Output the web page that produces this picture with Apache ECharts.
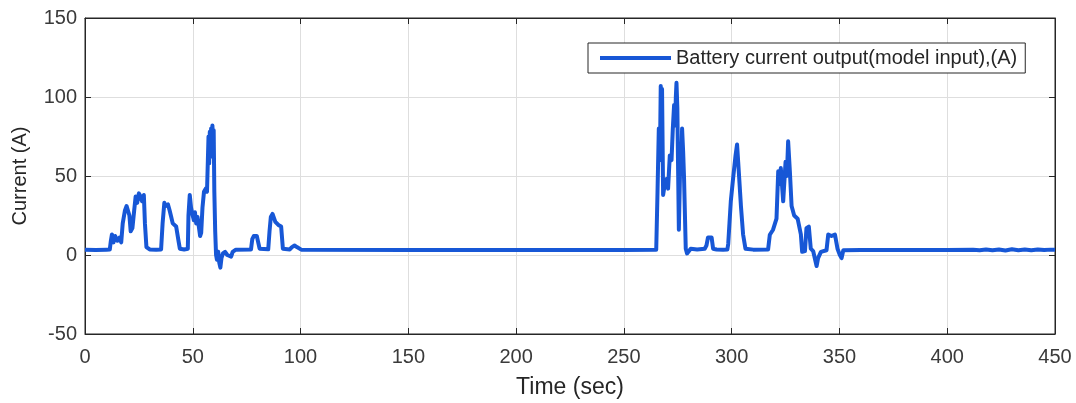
<!DOCTYPE html>
<html>
<head>
<meta charset="utf-8">
<script src="https://cdn.jsdelivr.net/npm/echarts@6/dist/echarts.min.js"></script>
<style>html,body{margin:0;padding:0;background:#fff}#c{width:1076px;height:403px}</style>
</head>
<body>
<div id="c"></div>
<script>
const xTicks = [0, 50, 100, 150, 200, 250, 300, 350, 400, 450];
const yTicks = [-50, 0, 50, 100, 150];
const seriesName = 'Battery current output(model input),(A)';
const timeSec = [
  0, 5, 10, 11.5, 12, 12.5, 13.2, 14, 15, 16, 16.8, 17.5, 18.5, 19.3, 20, 20.6, 21.2, 22, 22.8, 23.5, 24.2, 25, 25.8, 26.5, 27.3, 27.8, 28.5, 29.3,
  30, 33, 35.3, 36, 36.8, 37.5, 38.5, 39.3, 40, 40.7, 41.5, 42.3, 43, 43.5, 44, 46, 47.7, 48, 48.6, 49.2, 49.8, 50.5, 51, 51.6, 52.2, 52.8, 53.4, 53.9,
  54.5, 55.2, 56, 56.6, 57, 57.3, 57.6, 57.9, 58.2, 58.5, 58.8, 59.1, 59.4, 59.7, 60, 60.4, 60.8, 61.2, 61.8, 62.3, 62.8, 63.3, 64, 65, 66, 67.8, 68.5, 70,
  77, 77.6, 78.3, 79, 79.7, 80.3, 81, 85, 85.6, 86.2, 87, 87.6, 88.3, 89, 89.7, 90.3, 91, 91.8, 95, 96, 97.2, 98.3, 100.3,
  150, 200, 250, 265, 265.6, 266.2, 266.7, 267.1, 267.4, 267.7, 268.2, 269, 269.8, 270.5, 271.3, 272.1, 272.7, 273.3, 273.8, 274.1, 274.4, 274.8, 275.1, 275.5, 276.2,
  276.6, 277, 277.5, 277.9, 278.7, 279.3, 281, 284, 287.5, 288.3, 289, 289.9, 290.7, 291.4, 293, 296, 298, 298.4, 299.6, 300.7, 301.8, 302.5, 303.3, 304.3,
  305.3, 306.4, 310, 316.9, 317.7, 319.2, 320.8, 321.6, 322.3, 322.8, 323.9, 325, 325.6, 326.2, 327, 327.8, 329, 330.6, 332.1, 332.7, 334, 334.7, 335.8,
  336.7, 337.8, 339.4, 340.1, 341.4, 344, 344.8, 346.3, 347.9, 349.1, 350.2, 351, 351.8, 360, 380, 400, 412, 415, 418, 421, 424, 427, 430, 433, 436,
  439, 442, 445, 448, 450
];
const currentA = [
  3.4, 3.2, 3.4, 3.5, 9, 13, 8, 12, 9, 11, 8, 20, 28, 31, 30, 25, 15, 17, 28, 37, 33, 39, 37, 34, 38, 20, 5, 4,
  3.5, 3.3, 3.5, 20, 33, 31, 32, 28, 24, 20, 21, 18, 19, 8, 4, 3.5, 4, 25, 38, 30, 26, 22, 27, 20, 24, 18, 12, 14,
  30, 40, 42, 40, 60, 75, 58, 78, 62, 80, 66, 82, 74, 79, 40, 15, 0, -3, 2, -5, -8, -2, 1, 2, 0, -1, 2, 3.4,
  3.5, 10, 12, 11, 12, 11, 4, 3.6, 15, 24, 26, 25, 21, 22, 19, 20, 18, 4, 3.5, 5, 6, 5, 3.4,
  3.2, 3.2, 3.2, 3.3, 40, 80, 60, 107, 70, 105, 38, 45, 48, 42, 63, 60, 80, 95, 82, 100, 109, 93, 60, 16, 63,
  55, 80, 65, 49, 4, 1, 4, 3.5, 4, 6, 11, 12, 11, 4, 3.5, 3.3, 3.5, 7, 34, 49, 63, 70, 53, 31,
  13, 4, 3.4, 3.5, 12.8, 16, 23, 53, 45, 55, 34, 59, 50, 72, 53, 31, 25, 23, 13, 2, 2.5, 17, 18,
  4, 2.5, -7, -2, 2, 3, 13, 12, 13, 4, 0, -2, 3, 3.2, 3.2, 3.2, 3.3, 3.0, 3.5, 3.0, 3.5, 2.9, 3.6, 3.0, 3.5,
  3.0, 3.5, 3.1, 3.4, 3.3
];

const data = timeSec.map((t, i) => [t, currentA[i]]);
const chart = echarts.init(document.getElementById('c'), null, {renderer: 'canvas'});
const axisLineStyle = {color: '#262626', width: 1};
const FONT = 'Liberation Sans, Arial, sans-serif';
const labelFont = {fontFamily: FONT, fontSize: 20, color: '#3a3a3a'};
chart.setOption({
  animation: false,
  backgroundColor: '#fff',
  grid: {left: 85, right: 21, top: 18, bottom: 69, show: true, borderColor: '#262626', borderWidth: 1, containLabel: false, outerBoundsMode: 'none'},
  legend: {
    data: [seriesName],
    left: 588, top: 43,
    backgroundColor: '#fff',
    borderColor: '#262626', borderWidth: 1,
    padding: [5, 8, 5, 12],
    itemWidth: 71, itemHeight: 4,
    icon: 'rect',
    itemGap: 8,
    textStyle: {fontFamily: FONT, fontSize: 20, color: '#262626'}
  },
  xAxis: [{
    type: 'value', min: 0, max: 450, interval: 50,
    name: 'Time (sec)', nameLocation: 'middle', nameGap: 42,
    nameTextStyle: {fontFamily: FONT, fontSize: 23, color: '#262626'},
    axisLine: {show: true, onZero: false, lineStyle: axisLineStyle},
    axisTick: {show: true, inside: true, length: 6, lineStyle: axisLineStyle},
    axisLabel: Object.assign({margin: 13, formatter: v => xTicks.includes(v) ? String(v) : ''}, labelFont),
    splitLine: {show: true, lineStyle: {color: '#dedede', width: 1}}
  }, {
    type: 'value', min: 0, max: 450, interval: 50, position: 'top',
    axisLine: {show: true, onZero: false, lineStyle: axisLineStyle},
    axisTick: {show: true, inside: true, length: 6, lineStyle: axisLineStyle},
    axisLabel: {show: false}, splitLine: {show: false}
  }],
  yAxis: [{
    type: 'value', min: -50, max: 150, interval: 50,
    name: 'Current (A)', nameLocation: 'middle', nameGap: 55,
    nameTextStyle: {fontFamily: FONT, fontSize: 20, color: '#262626'},
    axisLine: {show: true, onZero: false, lineStyle: axisLineStyle},
    axisTick: {show: true, inside: true, length: 6, lineStyle: axisLineStyle},
    axisLabel: Object.assign({margin: 8, formatter: v => yTicks.includes(v) ? String(v) : ''}, labelFont),
    splitLine: {show: true, lineStyle: {color: '#dedede', width: 1}}
  }, {
    type: 'value', min: -50, max: 150, interval: 50, position: 'right',
    axisLine: {show: true, onZero: false, lineStyle: axisLineStyle},
    axisTick: {show: true, inside: true, length: 6, lineStyle: axisLineStyle},
    axisLabel: {show: false}, splitLine: {show: false}
  }],
  series: [{
    name: seriesName,
    type: 'line',
    data: data,
    showSymbol: false,
    symbol: 'none',
    lineStyle: {color: '#1757d6', width: 4, join: 'round'},
    itemStyle: {color: '#1757d6'}
  }]
});
</script>
</body>
</html>
